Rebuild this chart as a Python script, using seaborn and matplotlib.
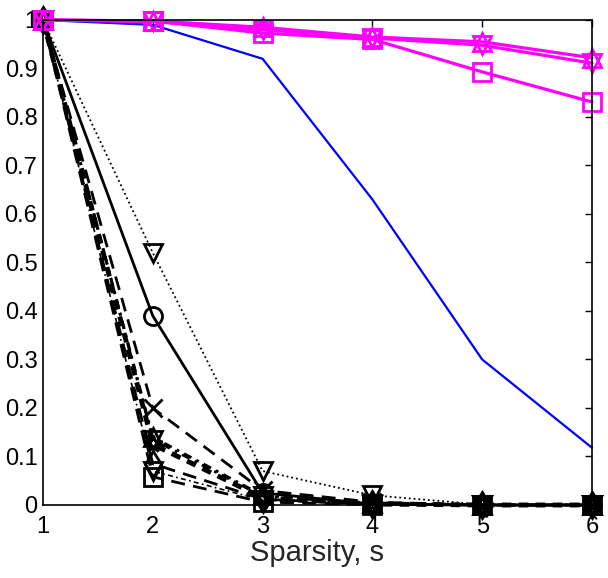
import numpy as np
import matplotlib
matplotlib.use("Agg")
import matplotlib.pyplot as plt
import seaborn as sns

# sparsity levels
sparsity = [1, 2, 3, 4, 5, 6]

# blue solid curve (no markers)
blue_vals = [1.0, 0.99, 0.92, 0.63, 0.30, 0.118]

# magenta curves
mag_square = [1.0, 0.998, 0.973, 0.960, 0.893, 0.831]
mag_tri_up = [1.0, 0.998, 0.985, 0.965, 0.955, 0.922]
mag_tri_down = [1.0, 0.997, 0.980, 0.963, 0.948, 0.911]

# black curves
blk_circle = [1.0, 0.39, 0.025, 0.002, 0.0, 0.0]
blk_tri_down = [1.0, 0.52, 0.07, 0.02, 0.001, 0.0]
blk_cross = [1.0, 0.20, 0.03, 0.006, 0.0, 0.0]
blk_hex_up = [1.0, 0.14, 0.02, 0.004, 0.0, 0.0]
blk_hex_down = [1.0, 0.135, 0.018, 0.003, 0.0, 0.0]
blk_star = [1.0, 0.125, 0.015, 0.002, 0.0, 0.0]
blk_diamond = [1.0, 0.085, 0.012, 0.002, 0.0, 0.0]
blk_tri_small = [1.0, 0.07, 0.01, 0.001, 0.0, 0.0]
blk_square = [1.0, 0.058, 0.006, 0.001, 0.0, 0.0]

y_ticks = [0, 0.1, 0.2, 0.3, 0.4, 0.5, 0.6, 0.7, 0.8, 0.9, 1.0]
y_ticklabels = ["0", "0.1", "0.2", "0.3", "0.4", "0.5", "0.6", "0.7", "0.8", "0.9", "1"]

sns.set_style("white")
plt.rcParams['font.family'] = ['Liberation Sans', 'DejaVu Sans']

fig = plt.figure(figsize=(6.08, 5.78), dpi=100)
ax = fig.add_axes([0.0707, 0.1263, 0.903, 0.8391])

# (values, color, linestyle, marker, linewidth)
series = [
    (blk_circle, "black", "-", "o", 2.0),
    (blk_tri_down, "black", ":", "v", 1.3),
    (blk_cross, "black", (0, (5, 3)), "x", 2.0),
    (blk_hex_up, "black", (0, (3, 2, 1, 2)), "^", 2.0),
    (blk_hex_down, "black", (0, (3, 2, 1, 2)), "v", 2.0),
    (blk_star, "black", (0, (2, 1.5)), "*", 3.5),
    (blk_diamond, "black", (0, (5, 3)), "d", 2.0),
    (blk_tri_small, "black", (0, (3, 2, 1, 2)), "v", 1.2),
    (blk_square, "black", (0, (5, 3)), "s", 2.0),
    (blue_vals, "blue", "-", None, 1.6),
    (mag_square, "magenta", "-", "s", 2.3),
    (mag_tri_up, "magenta", "-", "^", 2.3),
    (mag_tri_down, "magenta", "-", "v", 2.3),
]

for vals, col, ls, mk, lw in series:
    kw = dict(x=sparsity, y=vals, ax=ax, color=col, linestyle=ls, linewidth=lw)
    if mk is not None:
        kw.update(marker=mk, markersize=13, markerfacecolor="none",
                  markeredgecolor=col, markeredgewidth=2.0)
    sns.lineplot(**kw)

for ln in ax.get_lines():
    ln.set_clip_on(False)

ax.set_xlim(1, 6)
ax.set_ylim(0, 1)
ax.set_xticks(sparsity)
ax.set_yticks(y_ticks)
ax.set_yticklabels(y_ticklabels)
ax.tick_params(direction="in", top=True, right=True, length=5, width=1,
               labelsize=17, colors="black", pad=4)
ax.tick_params(axis="x", pad=8)
for sp in ax.spines.values():
    sp.set_visible(True)
    sp.set_color("black")
    sp.set_linewidth(1.2)
ax.set_xlabel("Sparsity, s", fontsize=21, labelpad=1)
ax.set_ylabel("")

fig.savefig("out.png", dpi=100)
